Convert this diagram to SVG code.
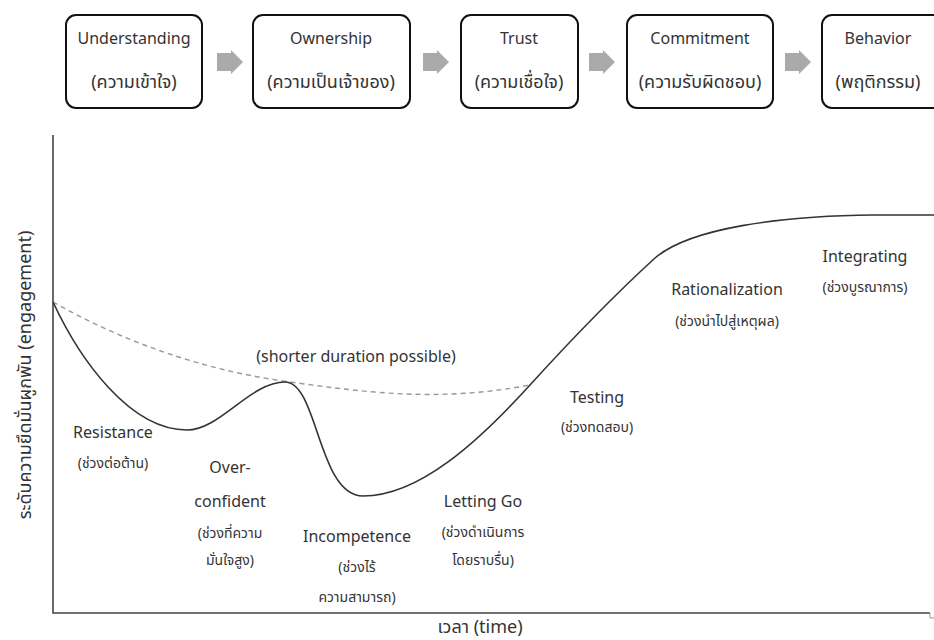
<svg xmlns="http://www.w3.org/2000/svg" width="934" height="640" viewBox="0 0 934 640">
<style>
text{font-family:"Noto Sans","Noto Sans Thai","DejaVu Sans",sans-serif;fill:#333;text-anchor:middle}
.t{font-size:16px}
.th{font-size:18px}
.sm{font-size:14px}
.ax18{font-size:18px}
.box{fill:#fff;stroke:#111;stroke-width:2}
.arr{fill:#aaa}
.ax{fill:none;stroke:#444;stroke-width:1.6}
.cv{fill:none;stroke:#333;stroke-width:1.6}
.ds{fill:none;stroke:#999;stroke-width:1.4;stroke-dasharray:5,4}
</style>
<rect width="934" height="640" fill="#fff"/>
<g id="n1"><rect class="box" x="66" y="15" width="136" height="93" rx="10"/><text class="t" x="134" y="44">Understanding</text><text class="th" x="134" y="88">(ความเข้าใจ)</text></g>
<g id="n2"><rect class="box" x="253" y="15" width="157" height="93" rx="10"/><text class="t" x="331" y="44">Ownership</text><text class="th" x="331" y="88">(ความเป็นเจ้าของ)</text></g>
<g id="n3"><rect class="box" x="461" y="15" width="117" height="93" rx="10"/><text class="t" x="519" y="44">Trust</text><text class="th" x="519" y="88">(ความเชื่อใจ)</text></g>
<g id="n4"><rect class="box" x="627" y="15" width="146" height="93" rx="10"/><text class="t" x="700" y="44">Commitment</text><text class="th" x="700" y="88">(ความรับผิดชอบ)</text></g>
<g id="n5"><rect class="box" x="822" y="15" width="130" height="93" rx="10"/><text class="t" x="878" y="44">Behavior</text><text class="th" x="878" y="88">(พฤติกรรม)</text></g>
<g id="connectors">
<polygon class="arr" points="217,53 231,53 231,50 243,62 231,74 231,71 217,71"/>
<polygon class="arr" points="423,53 437,53 437,50 449,62 437,74 437,71 423,71"/>
<polygon class="arr" points="589,53 603,53 603,50 615,62 603,74 603,71 589,71"/>
<polygon class="arr" points="785,53 799,53 799,50 811,62 799,74 799,71 785,71"/>
</g>
<g id="chart">
<path class="ax" d="M53,135 L53,613 L930,613"/>
<path d="M930,613 L930,618 L934,618" fill="none" stroke="#999" stroke-width="1"/>
<path class="ds" d="M53,302 C120,340 200,370 290,382 C370,393 440,402 530,385"/>
<path class="cv" d="M53,302 C80,360 130,430 187,430 C220,430 250,382 285,382 C318,382 318,496 363,496 C420,496 480,440 530,385 C580,330 620,290 655,258 C690,228 780,216 873,215 L934,215"/>
<text class="t" x="356" y="362">(shorter duration possible)</text>
<text class="t" x="113" y="438">Resistance</text>
<text class="sm" x="113" y="468">(ช่วงต่อต้าน)</text>
<text class="t" x="230" y="473">Over-</text>
<text class="t" x="230" y="507">confident</text>
<text class="sm" x="230" y="538">(ช่วงที่ความ</text>
<text class="sm" x="230" y="565">มั่นใจสูง)</text>
<text class="t" x="357" y="542">Incompetence</text>
<text class="sm" x="357" y="572">(ช่วงไร้</text>
<text class="sm" x="357" y="602">ความสามารถ)</text>
<text class="t" x="483" y="507">Letting Go</text>
<text class="sm" x="483" y="537">(ช่วงดำเนินการ</text>
<text class="sm" x="483" y="565">โดยราบรื่น)</text>
<text class="t" x="597" y="403">Testing</text>
<text class="sm" x="597" y="432">(ช่วงทดสอบ)</text>
<text class="t" x="727" y="295">Rationalization</text>
<text class="sm" x="727" y="326">(ช่วงนำไปสู่เหตุผล)</text>
<text class="t" x="865" y="262">Integrating</text>
<text class="sm" x="865" y="292">(ช่วงบูรณาการ)</text>
<text class="ax18" x="480" y="633">เวลา (time)</text>
<text class="ax18" transform="translate(31,375) rotate(-90)">ระดับความยึดมั่นผูกพัน (engagement)</text>
</g>
</svg>
